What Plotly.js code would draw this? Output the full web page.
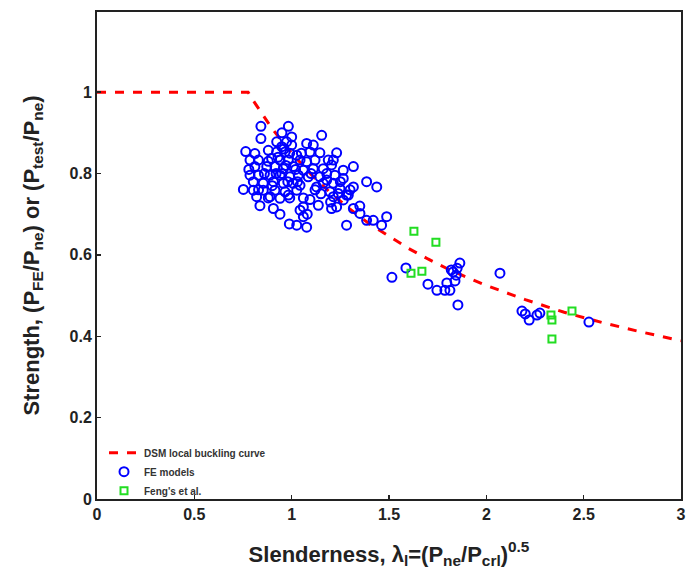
<!DOCTYPE html>
<html>
<head>
<meta charset="utf-8">
<script src="https://cdn.plot.ly/plotly-3.0.1.min.js"></script>
<style>html,body{margin:0;padding:0;background:#fff;}#chart{width:686px;height:585px;}</style>
</head>
<body>
<div id="chart"></div>
<script>
// DSM local buckling curve
var dsmX = [0, 0.776, 0.8, 0.9, 1.0, 1.1, 1.2, 1.3, 1.4, 1.5, 1.6, 1.7, 1.8, 1.9, 2.0, 2.2, 2.4, 2.6, 2.8, 3.0];
var dsmY = [1.0, 1.0, 0.981, 0.910, 0.850, 0.798, 0.752, 0.712, 0.676, 0.645, 0.616, 0.590, 0.566, 0.545, 0.525, 0.490, 0.459, 0.433, 0.410, 0.389];

// FE models
var feX = [0.842,0.983,0.842,1.154,0.923,0.974,0.949,1.077,1.111,0.764,0.811,0.880,0.923,0.966,1.026,1.094,1.145,1.231,
  0.786,0.829,0.897,0.940,0.983,1.043,1.077,1.120,1.188,1.214,0.811,0.872,0.914,0.957,1.008,1.060,1.111,1.162,1.205,1.265,1.317,
  0.786,0.829,0.889,0.940,0.991,1.034,1.085,1.145,1.180,1.222,1.265,1.385,1.437,0.803,0.854,0.906,0.957,1.008,1.043,1.128,1.162,1.214,1.248,1.317,
  0.752,0.803,0.854,0.914,0.966,1.026,1.197,1.239,1.282,0.820,0.889,0.940,0.983,1.094,1.137,1.214,1.265,1.291,
  0.837,0.906,0.940,1.043,1.060,1.205,1.317,1.351,1.231,0.988,1.026,1.077,1.060,1.282,1.419,1.462,1.488,1.385,
  0.93,0.96,0.99,1.00,0.95,0.98,1.02,0.92,0.88,0.97,1.05,1.00,0.95,0.90,0.86,1.03,1.10,1.12,0.99,1.06,1.18,1.25,1.30,1.35,0.78,0.83,0.88,1.15,1.20,1.08,
  1.515,1.587,1.700,1.746,1.787,1.813,1.797,1.839,1.829,1.850,1.864,1.820,1.845,1.854,2.070,2.183,2.220,2.200,2.260,2.275,2.527];
var feY = [0.916,0.916,0.886,0.894,0.878,0.878,0.866,0.874,0.870,0.854,0.849,0.857,0.853,0.853,0.845,0.853,0.851,0.851,
  0.833,0.833,0.837,0.833,0.833,0.833,0.829,0.833,0.833,0.833,0.817,0.817,0.817,0.812,0.817,0.808,0.812,0.812,0.821,0.808,0.817,
  0.796,0.796,0.796,0.796,0.792,0.796,0.792,0.792,0.784,0.796,0.788,0.780,0.767,0.780,0.776,0.780,0.776,0.776,0.771,0.767,0.776,0.776,0.763,0.767,
  0.761,0.759,0.759,0.759,0.755,0.759,0.755,0.751,0.747,0.743,0.743,0.739,0.747,0.736,0.722,0.743,0.735,0.747,
  0.721,0.714,0.700,0.710,0.718,0.714,0.714,0.702,0.718,0.676,0.673,0.668,0.694,0.673,0.685,0.673,0.694,0.685,
  0.84,0.86,0.85,0.87,0.80,0.78,0.81,0.80,0.83,0.82,0.85,0.89,0.90,0.77,0.80,0.78,0.80,0.76,0.74,0.74,0.80,0.78,0.76,0.72,0.81,0.76,0.74,0.75,0.73,0.70,
  0.545,0.568,0.528,0.513,0.513,0.513,0.531,0.536,0.558,0.567,0.580,0.563,0.550,0.477,0.555,0.462,0.440,0.455,0.452,0.457,0.435];

// Feng's et al.
var fengX = [1.628, 1.741, 1.613, 1.669, 2.332, 2.337, 2.337, 2.440];
var fengY = [0.658, 0.631, 0.555, 0.560, 0.452, 0.440, 0.393, 0.462];

var xTicks = [0, 0.5, 1, 1.5, 2, 2.5, 3];
var xTickText = ['0', '0.5', '1', '1.5', '2', '2.5', '3'];
var yTicks = [0, 0.2, 0.4, 0.6, 0.8, 1];
var yTickText = ['0', '0.2', '0.4', '0.6', '0.8', '1'];

var traces = [
  {x: dsmX, y: dsmY, mode: 'lines', name: '<b>DSM local buckling curve</b>',
   line: {color: '#ff0000', width: 3, dash: 'dash'}},
  {x: feX, y: feY, mode: 'markers', name: '<b>FE models</b>',
   marker: {symbol: 'circle-open', color: '#0000ff', size: 9, line: {width: 2, color: '#0000ff'}}},
  {x: fengX, y: fengY, mode: 'markers', name: "<b>Feng's et al.</b>",
   marker: {symbol: 'square-open', color: '#22dd22', size: 7, line: {width: 2, color: '#22dd22'}}}
];

var axisFont = {family: 'Liberation Sans, Arial, sans-serif', size: 16, color: '#222'};
var layout = {
  width: 686, height: 585,
  margin: {l: 97, r: 5, t: 12, b: 86},
  paper_bgcolor: '#fff', plot_bgcolor: '#fff',
  showlegend: true,
  legend: {x: 0.012, y: 0.125, xanchor: 'left', yanchor: 'top', bgcolor: 'rgba(0,0,0,0)',
    font: {family: 'Liberation Sans, Arial, sans-serif', size: 10, color: '#333'},
    tracegroupgap: 0, itemwidth: 30},
  xaxis: {range: [0, 3], tickvals: xTicks, ticktext: xTickText.map(function(t){return '<b>'+t+'</b>';}),
    ticks: 'inside', ticklen: 4, tickwidth: 1.5, tickcolor: '#222',
    showline: true, linecolor: '#222', linewidth: 2, mirror: true,
    showgrid: false, zeroline: false, tickfont: axisFont,
    title: {text: '<b>Slenderness, λ<sub>l</sub>=(P<sub>ne</sub>/P<sub>crl</sub>)<sup>0.5</sup></b>',
      font: {family: 'Liberation Sans, Arial, sans-serif', size: 22, color: '#222'}, standoff: 24}},
  yaxis: {range: [0, 1.197], tickvals: yTicks, ticktext: yTickText.map(function(t){return '<b>'+t+'</b>';}),
    ticks: 'inside', ticklen: 4, tickwidth: 1.5, tickcolor: '#222',
    showline: true, linecolor: '#222', linewidth: 2, mirror: true,
    showgrid: false, zeroline: false, tickfont: axisFont,
    title: {text: '<b>Strength, (P<sub>FE</sub>/P<sub>ne</sub>) or (P<sub>test</sub>/P<sub>ne</sub>)</b>',
      font: {family: 'Liberation Sans, Arial, sans-serif', size: 22, color: '#222'}, standoff: 24}}
};

Plotly.newPlot('chart', traces, layout, {displayModeBar: false, staticPlot: true});
</script>
</body>
</html>
